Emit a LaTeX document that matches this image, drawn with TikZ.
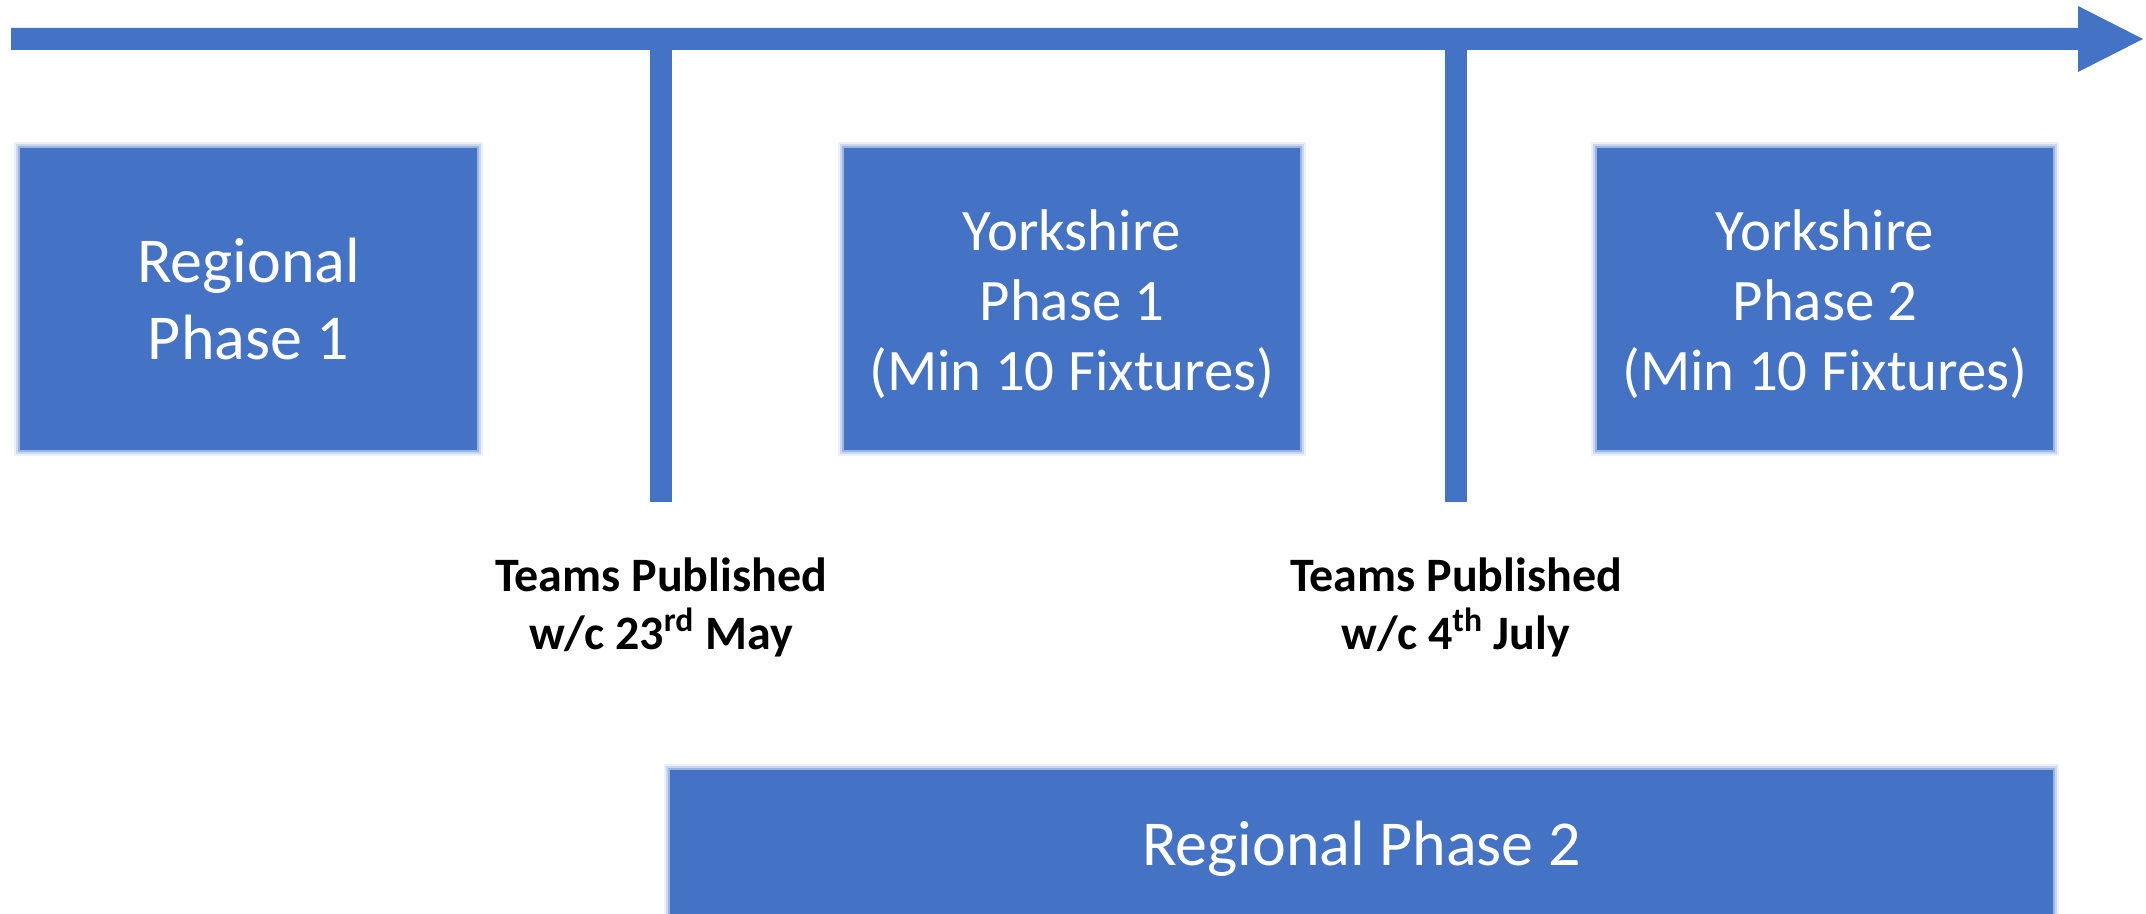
\documentclass[tikz,border=0pt]{standalone}
\usepackage{fontspec}
\setmainfont{Carlito}
\usetikzlibrary{backgrounds}
\definecolor{bl}{HTML}{4472C4}
\newcommand\myhalo[1]{\foreach \d/\o in {1/0.35,2/0.2,3/0.1}{\fill[bl,opacity=\o] ([xshift=-\d pt,yshift=\d pt]#1.north west) rectangle ([xshift=\d pt,yshift=-\d pt]#1.south east);}}
\begin{document}
\begin{tikzpicture}[x=0.5pt,y=-0.5pt,
  phase/.style={fill=bl, draw=none, inner sep=0pt, text=white, align=center},
  lbl/.style={inner sep=0pt, align=center, font=\bfseries\fontsize{24}{29}\selectfont},
  bar/.style={fill=bl, draw=none}]
\useasboundingbox (0,0) rectangle (2146,914);
% timeline arrow
\coordinate (start) at (11,39);
\coordinate (tip) at (2143,39);
\fill[bar] (11,28) -- (2078,28) -- (2078,6) -- (tip) -- (2078,72) -- (2078,50) -- (11,50) -- cycle;
% ticks
\coordinate (k1) at (661,50);
\coordinate (k2) at (1456,50);
\fill[bar] ([xshift=-5.5pt]k1) rectangle ([xshift=5.5pt,yshift=-226pt]k1);
\fill[bar] ([xshift=-5.5pt]k2) rectangle ([xshift=5.5pt,yshift=-226pt]k2);
% phase boxes
\node[phase, minimum width=228.5pt, minimum height=151pt] (rp1) at (248.5,299) {};
\node[text=white, align=center, inner sep=0pt, font=\fontsize{32}{38.5}\selectfont] (rp1t) at (rp1.center) {Regional\\Phase 1};
\node[phase, minimum width=228pt, minimum height=151pt] (yp1) at (1072,299) {};
\node[text=white, align=center, inner sep=0pt, font=\fontsize{29.4}{35}\selectfont] (yp1t) at ([yshift=-2.75pt]yp1.center) {Yorkshire\\Phase 1\\(Min 10 Fixtures)};
\node[phase, minimum width=228pt, minimum height=151pt] (yp2) at (1825,299) {};
\node[text=white, align=center, inner sep=0pt, font=\fontsize{29.4}{35}\selectfont] (yp2t) at ([yshift=-2.75pt]yp2.center) {Yorkshire\\Phase 2\\(Min 10 Fixtures)};
\node[phase, minimum width=691.5pt, minimum height=79pt] (rp2) at (1361.5,849) {};
\node[text=white, inner sep=0pt, font=\fontsize{32}{38}\selectfont] (rp2t) at (rp2.center) {Regional Phase 2};
% labels
\node[lbl] (t1) at (661,607) {Teams Published\\w/c 23\textsuperscript{rd} May};
\node[lbl] (t2) at (1456,607) {Teams Published\\w/c 4\textsuperscript{th} July};
\begin{scope}[on background layer]
\myhalo{rp1}\myhalo{yp1}\myhalo{yp2}\myhalo{rp2}
\end{scope}
\end{tikzpicture}
\end{document}
